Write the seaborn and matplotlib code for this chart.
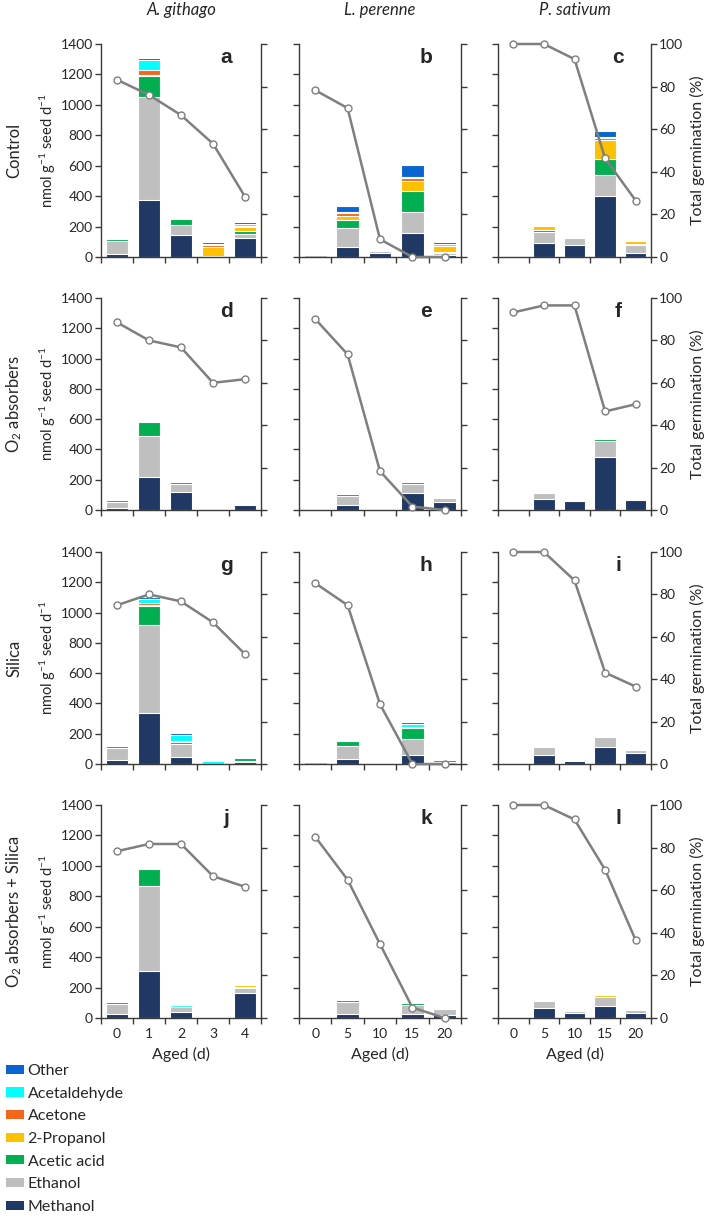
import numpy as np
import pandas as pd
import matplotlib
matplotlib.use("Agg")
import matplotlib.pyplot as plt
from matplotlib.patches import Patch
import seaborn as sns

# column / row headers
SPECIES = ["A. githago", "L. perenne", "P. sativum"]
TREATMENTS = ["Control", "O$_2$ absorbers", "Silica", "O$_2$ absorbers + Silica"]
PANELS = ["a", "b", "c", "d", "e", "f", "g", "h", "i", "j", "k", "l"]
DAYS = [["0", "1", "2", "3", "4"],
        ["0", "5", "10", "15", "20"],
        ["0", "5", "10", "15", "20"]]

COMPOUNDS = ["Methanol", "Ethanol", "Acetic acid", "2-Propanol",
             "Acetone", "Acetaldehyde", "Other"]
COLORS = ["#1f3864", "#bfbfbf", "#00b050", "#ffc000",
          "#f4661b", "#00ffff", "#0a64d2"]

# emission rates (nmol g-1 seed d-1), one list per panel a..l
METHANOL = [
    [20, 374, 145, 2, 122], [2, 64, 24, 160, 12], [0, 90, 78, 402, 27],
    [10, 216, 121, 0, 35], [0, 35, 5, 112, 53], [0, 73, 57, 348, 66],
    [27, 338, 46, 0, 12], [0, 33, 0, 62, 2], [0, 57, 18, 115, 73],
    [24, 311, 42, 0, 163], [0, 29, 0, 29, 20], [0, 66, 33, 82, 33],
]
ETHANOL = [
    [88, 677, 64, 0, 32], [12, 128, 14, 137, 15], [0, 72, 48, 140, 55],
    [45, 272, 48, 0, 0], [0, 58, 0, 60, 28], [0, 40, 0, 110, 0],
    [78, 582, 84, 0, 5], [10, 88, 0, 103, 8], [0, 52, 10, 65, 20],
    [70, 556, 28, 0, 33], [8, 76, 0, 55, 36], [0, 46, 14, 56, 18],
]
ACETIC_ACID = [
    [12, 140, 38, 2, 14], [0, 52, 8, 135, 3], [0, 18, 4, 100, 3],
    [8, 95, 14, 0, 0], [0, 15, 0, 14, 3], [0, 3, 0, 10, 0],
    [15, 125, 12, 0, 23], [0, 30, 0, 70, 18], [0, 5, 8, 8, 2],
    [8, 110, 5, 0, 10], [0, 14, 0, 12, 0], [0, 0, 3, 3, 8],
]
PROPANOL = [
    [0, 5, 5, 62, 28], [0, 28, 8, 70, 40], [0, 22, 10, 127, 22],
    [0, 5, 0, 0, 0], [0, 0, 0, 0, 5], [0, 0, 0, 0, 0],
    [0, 5, 5, 0, 0], [0, 0, 0, 5, 0], [0, 0, 0, 3, 0],
    [0, 5, 0, 0, 8], [0, 0, 0, 0, 0], [0, 0, 0, 12, 0],
]
ACETONE = [
    [0, 35, 3, 10, 10], [0, 15, 3, 18, 3], [0, 0, 0, 15, 0],
    [0, 0, 0, 0, 0], [0, 0, 0, 0, 0], [0, 0, 0, 0, 0],
    [0, 12, 5, 0, 0], [0, 0, 0, 3, 0], [0, 0, 0, 0, 0],
    [0, 0, 0, 0, 0], [0, 0, 0, 0, 0], [0, 0, 0, 0, 0],
]
ACETALDEHYDE = [
    [2, 62, 7, 10, 12], [0, 10, 6, 6, 12], [0, 5, 0, 5, 0],
    [5, 0, 4, 0, 0], [0, 3, 0, 5, 0], [0, 6, 0, 8, 0],
    [0, 25, 38, 17, 0], [0, 0, 0, 20, 0], [0, 8, 0, 0, 0],
    [5, 0, 10, 0, 0], [0, 3, 0, 8, 0], [0, 0, 5, 0, 0],
]
OTHER = [
    [0, 15, 6, 14, 10], [0, 38, 8, 80, 15], [0, 0, 0, 40, 0],
    [0, 0, 0, 0, 0], [0, 0, 0, 0, 0], [0, 0, 0, 0, 0],
    [3, 15, 18, 0, 0], [0, 0, 0, 12, 0], [0, 0, 0, 0, 0],
    [0, 0, 0, 0, 0], [0, 0, 0, 0, 0], [0, 0, 0, 0, 0],
]

# total germination (%)
GERMINATION = [
    [83.2, 76.1, 66.6, 53.2, 28.3], [78.3, 69.9, 8.3, 0, 0], [100, 100, 92.9, 46.3, 26.5],
    [88.5, 80.0, 76.7, 60.0, 61.7], [90.1, 73.4, 18.3, 1.6, 0], [93.2, 96.5, 96.5, 46.5, 49.9],
    [74.9, 80.0, 76.7, 66.8, 51.8], [85.3, 74.9, 28.2, 0, 0], [100, 100, 86.6, 43.1, 36.5],
    [78.3, 81.7, 81.7, 66.6, 61.6], [85.1, 64.9, 34.7, 4.9, 0], [100, 100, 93.2, 69.6, 36.5],
]

SERIES = [METHANOL, ETHANOL, ACETIC_ACID, PROPANOL, ACETONE, ACETALDEHYDE, OTHER]

W, H = 705, 1220
COL_X = [(101, 261), (299, 461), (498, 651)]
ROW_Y = [(44, 257), (298, 510), (552, 764), (805, 1018)]
GREY = "#7f7f7f"
SPINE = "#3a3a3a"


def rect(x0, x1, y0, y1):
    return [x0 / W, 1 - y1 / H, (x1 - x0) / W, (y1 - y0) / H]


sns.set_theme(style="ticks")
plt.rcParams["font.family"] = ["Lato", "DejaVu Sans"]
plt.rcParams["mathtext.fontset"] = "custom"
plt.rcParams["mathtext.rm"] = "Lato"
plt.rcParams["mathtext.it"] = "Lato:italic"
plt.rcParams["mathtext.bf"] = "Lato:bold"

fig = plt.figure(figsize=(W / 100, H / 100), dpi=100)

for r in range(4):
    for c in range(3):
        k = r * 3 + c
        days = DAYS[c]
        n = len(days)
        box = rect(*COL_X[c], *ROW_Y[r])

        df = pd.DataFrame({name: s[k] for name, s in zip(COMPOUNDS, SERIES)}, index=days)
        cum = df.cumsum(axis=1)

        ax = fig.add_axes(box)
        # stacked bars: draw cumulative totals from top compound down
        for name, col in reversed(list(zip(COMPOUNDS, COLORS))):
            sns.barplot(x=days, y=cum[name].values, order=days, color=col,
                        saturation=1, width=0.7, edgecolor="white",
                        linewidth=0.8, errorbar=None, ax=ax)
        ax.set_xlim(-0.5, n - 0.5)
        ax.set_ylim(0, 1400)
        ax.set_yticks(np.arange(0, 1401, 200))
        ax.set_xticks(np.arange(n + 1) - 0.5, labels=[""] * (n + 1))
        ax.set_xticks(np.arange(n), minor=True)
        if r == 3:
            ax.set_xticklabels(days, minor=True)
            ax.set_xlabel("Aged (d)", fontsize=11.5, labelpad=5)
        else:
            ax.set_xticklabels([""] * n, minor=True)
            ax.set_xlabel("")
        ax.set_ylabel("")
        if c != 0:
            ax.set_yticklabels([])
        ax.tick_params(axis="both", which="major", direction="out", length=4,
                       width=1, color=SPINE, labelsize=10, pad=2)
        ax.tick_params(axis="x", which="minor", length=0, labelsize=10, pad=7)
        for side in ["top", "right"]:
            ax.spines[side].set_visible(False)
        for side in ["left", "bottom"]:
            ax.spines[side].set_color(SPINE)
            ax.spines[side].set_linewidth(1)

        # germination on right axis
        ax2 = fig.add_axes(box)
        ax2.patch.set_alpha(0)
        sns.lineplot(x=np.arange(n), y=GERMINATION[k], ax=ax2, color=GREY,
                     linewidth=1.8, marker="o", markersize=5,
                     markerfacecolor="white", markeredgecolor=GREY,
                     markeredgewidth=1.0, clip_on=False)
        ax2.set_xlim(-0.5, n - 0.5)
        ax2.set_ylim(0, 100)
        ax2.xaxis.set_visible(False)
        ax2.yaxis.tick_right()
        ax2.set_yticks(np.arange(0, 101, 20))
        if c != 2:
            ax2.set_yticklabels([])
        ax2.set_ylabel("")
        ax2.tick_params(axis="y", direction="out", length=4, width=1,
                        color=SPINE, labelsize=10, pad=2)
        for side in ["top", "left", "bottom"]:
            ax2.spines[side].set_visible(False)
        ax2.spines["right"].set_color(SPINE)
        ax2.spines["right"].set_linewidth(1)

        ax2.text(0.785, 0.938, PANELS[k], transform=ax2.transAxes, ha="center",
                 va="center", fontsize=15, fontweight="bold",
                 family=["Liberation Sans"])

        if r == 0:
            fig.text((COL_X[c][0] + COL_X[c][1]) / 2 / W, 1 - 10 / H, SPECIES[c],
                     ha="center", va="center", fontsize=12, style="italic")

    yc = 1 - (ROW_Y[r][0] + ROW_Y[r][1]) / 2 / H
    fig.text(14 / W, yc, TREATMENTS[r], rotation=90, ha="center", va="center",
             fontsize=12)
    fig.text(48 / W, yc, "nmol g$^{-1}$ seed d$^{-1}$", rotation=90,
             ha="center", va="center", fontsize=10.5)
    fig.text(697 / W, yc, "Total germination (%)", rotation=90,
             ha="center", va="center", fontsize=11.5)

handles = [Patch(facecolor=col, edgecolor="none") for col in COLORS[::-1]]
fig.legend(handles, COMPOUNDS[::-1], loc="upper left",
           bbox_to_anchor=(6 / W, 1 - 1064 / H), frameon=False, fontsize=11.5,
           handlelength=1.1, handleheight=0.5, handletextpad=0.25,
           labelspacing=0.54, borderpad=0, borderaxespad=0)

fig.savefig("out.png", dpi=100)
